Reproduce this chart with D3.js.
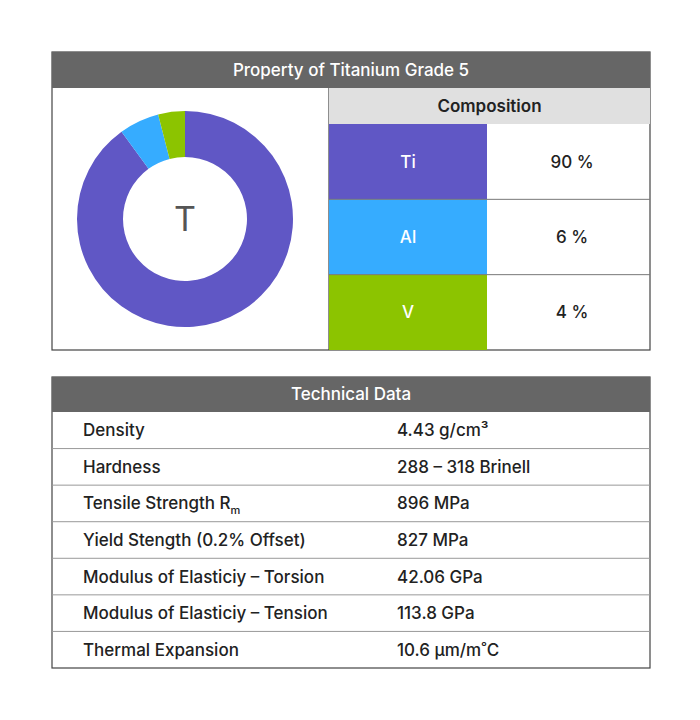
<!DOCTYPE html>
<html><head><meta charset="utf-8">
<script src="https://cdn.jsdelivr.net/npm/d3@7"></script>
<style>body{margin:0;background:#fff;font-family:Inter,Roboto,sans-serif}</style>
</head><body><svg id="c" width="700" height="720"></svg>
<script>
const title = "Property of Titanium Grade 5";
const elements = ["Ti","Al","V"];
const shares = [90,6,4];
const elementColors = ["#6057c5","#36acff","#8cc400"];
const techTitle = "Technical Data";
const properties = ["Density","Hardness","Tensile Strength R","Yield Stength (0.2% Offset)","Modulus of Elasticiy – Torsion","Modulus of Elasticiy – Tension","Thermal Expansion"];
const propValues = ["4.43 g/cm³","288 – 318 Brinell","896 MPa","827 MPa","42.06 GPa","113.8 GPa","10.6 µm/m˚C"];

const svg = d3.select("#c");
const F = "Inter, Roboto, sans-serif";
// top panel
const X0=52,X1=650,Y0=52,YH=88,Y1=350,XM=329,XC=487;
svg.append("rect").attr("x",X0).attr("y",Y0).attr("width",X1-X0).attr("height",Y1-Y0).attr("fill","#fff").attr("stroke","#444").attr("stroke-width",1.2);
svg.append("rect").attr("x",X0).attr("y",Y0).attr("width",X1-X0).attr("height",YH-Y0).attr("fill","#666");
svg.append("text").attr("x",(X0+X1)/2).attr("y",(Y0+YH)/2).attr("dy","0.35em").attr("text-anchor","middle").attr("fill","#fff").attr("font-family",F).attr("font-size",17).attr("font-weight",500).text(title);

const pie = d3.pie().sort(null).value(d=>d)(shares);
const arc = d3.arc().innerRadius(62).outerRadius(108);
const g = svg.append("g").attr("transform","translate(185,219)");
g.selectAll("path").data(pie).join("path").attr("d",arc).attr("fill",(d,i)=>elementColors[i]);
g.append("text").attr("text-anchor","middle").attr("dy","0.35em").attr("font-family",F).attr("font-size",34).attr("fill","#555").text("T");

svg.append("line").attr("x1",XM).attr("x2",XM).attr("y1",YH).attr("y2",Y1).attr("stroke","#444").attr("stroke-width",1.2);
svg.append("rect").attr("x",XM).attr("y",YH).attr("width",X1-XM).attr("height",36).attr("fill","#e0e0e0");
svg.append("text").attr("x",(XM+X1)/2).attr("y",YH+18).attr("dy","0.35em").attr("text-anchor","middle").attr("font-family",F).attr("font-size",17).attr("font-weight",600).attr("fill","#222").text("Composition");
const ry = d3.scaleBand().domain(elements).range([124,Y1]);
const rows = svg.append("g").selectAll("g").data(elements).join("g");
rows.append("rect").attr("x",XM).attr("y",d=>ry(d)).attr("width",XC-XM).attr("height",ry.bandwidth()).attr("fill",(d,i)=>elementColors[i]);
rows.append("text").attr("x",(XM+XC)/2).attr("y",d=>ry(d)+ry.bandwidth()/2).attr("dy","0.35em").attr("text-anchor","middle").attr("fill","#fff").attr("font-family",F).attr("font-size",17).attr("font-weight",500).text(d=>d);
rows.append("text").attr("x",572).attr("y",d=>ry(d)+ry.bandwidth()/2).attr("dy","0.35em").attr("text-anchor","middle").attr("fill","#222").attr("font-family",F).attr("font-size",17).attr("font-weight",500).text((d,i)=>shares[i]+" %");
rows.filter((d,i)=>i>0).append("line").attr("x1",XM).attr("x2",X1).attr("y1",d=>ry(d)).attr("y2",d=>ry(d)).attr("stroke","#777");

// technical table
const T0=377,TH=412,T1=668;
svg.append("rect").attr("x",X0).attr("y",T0).attr("width",X1-X0).attr("height",T1-T0).attr("fill","#fff").attr("stroke","#444").attr("stroke-width",1.2);
svg.append("rect").attr("x",X0).attr("y",T0).attr("width",X1-X0).attr("height",TH-T0).attr("fill","#666");
svg.append("text").attr("x",(X0+X1)/2).attr("y",(T0+TH)/2).attr("dy","0.35em").attr("text-anchor","middle").attr("fill","#fff").attr("font-family",F).attr("font-size",17).attr("font-weight",500).text(techTitle);
const ty = d3.scaleBand().domain(d3.range(properties.length)).range([TH,T1]);
const tr = svg.append("g").selectAll("g").data(properties).join("g");
tr.filter((d,i)=>i>0).append("line").attr("x1",X0).attr("x2",X1).attr("y1",(d,i)=>ty(i+1)).attr("y2",(d,i)=>ty(i+1)).attr("stroke","#999");
const lt = tr.append("text").attr("x",83).attr("y",(d,i)=>ty(i)+ty.bandwidth()/2).attr("dy","0.35em").attr("fill","#222").attr("font-family",F).attr("font-size",17).attr("font-weight",500).text(d=>d);
lt.filter((d,i)=>i===2).append("tspan").attr("font-size",11).attr("dy","5").text("m");
tr.append("text").attr("x",397).attr("y",(d,i)=>ty(i)+ty.bandwidth()/2).attr("dy","0.35em").attr("fill","#222").attr("font-family",F).attr("font-size",17).attr("font-weight",500).text((d,i)=>propValues[i]);
</script></body></html>
